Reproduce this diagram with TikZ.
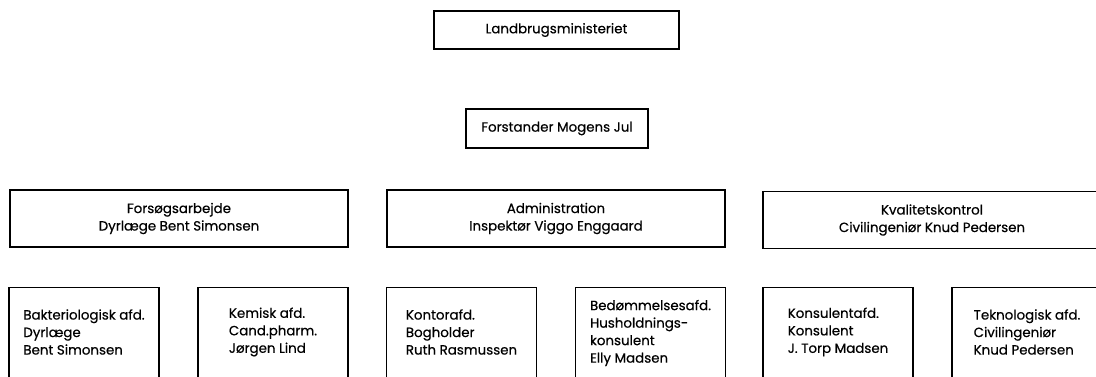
\documentclass[tikz,border=0pt]{standalone}
\usepackage{fontspec}
\setmainfont{Poppins}[FakeBold=0.5]

\begin{document}
\begin{tikzpicture}[x=1pt,y=-1pt,line width=1.3pt]
    \tikzstyle{unit}=[draw,rectangle,inner sep=0pt,font=\fontsize{13.4}{17.5}\selectfont,align=center]
    \tikzstyle{head}=[unit,minimum width=338pt,minimum height=57pt]
    \tikzstyle{dept}=[unit,anchor=north,minimum width=150pt,minimum height=140pt]
    \tikzstyle{staff}=[font=\fontsize{13.4}{17.5}\selectfont,align=left,inner sep=0pt]
    \useasboundingbox (0,0) rectangle (1096,377);
    \clip (0,0) rectangle (1096,377);
    \path
    % Top of the organisation
    (556.5,30)  node[unit,minimum width=245pt,minimum height=38pt] (ministry) {Landbrugsministeriet}
    (557,128.5) node[unit,minimum width=182pt,minimum height=39pt] (director) {Forstander Mogens Jul}

    % Sections
    (179,218.5) node[head] (research) {Forsøgsarbejde\\Dyrlæge Bent Simonsen}
    (556,218.5) node[head] (admin)    {Administration\\Inspektør Viggo Enggaard}
    (932,220)   node[head] (quality)  {Kvalitetskontrol\\Civilingeniør Knud Pedersen}

    % Departments
    (84,286.5)  node[dept] (bacteria) {}
    (273,286.5) node[dept] (chemical) {}
    (461.5,286.5) node[dept] (office) {}
    (650.5,286.5) node[dept] (judging) {}
    (838,286.5) node[dept] (advisory) {}
    (1027,286.5) node[dept] (technology) {};

    % Staff of the departments
    \node[staff] (bacteriatext)   at (84,332)    {Bakteriologisk afd.\\Dyrlæge\\Bent Simonsen};
    \node[staff] (chemicaltext)   at (273,332)   {Kemisk afd.\\Cand.pharm.\\Jørgen Lind};
    \node[staff] (officetext)     at (461.5,332) {Kontorafd.\\Bogholder\\Ruth Rasmussen};
    \node[staff] (judgingtext)    at (650.5,333) {Bedømmelsesafd.\\Husholdnings-\\konsulent\\Elly Madsen};
    \node[staff] (advisorytext)   at (838,332)   {Konsulentafd.\\Konsulent\\J. Torp Madsen};
    \node[staff] (technologytext) at (1027,332)  {Teknologisk afd.\\Civilingeniør\\Knud Pedersen};
\end{tikzpicture}
\end{document}
